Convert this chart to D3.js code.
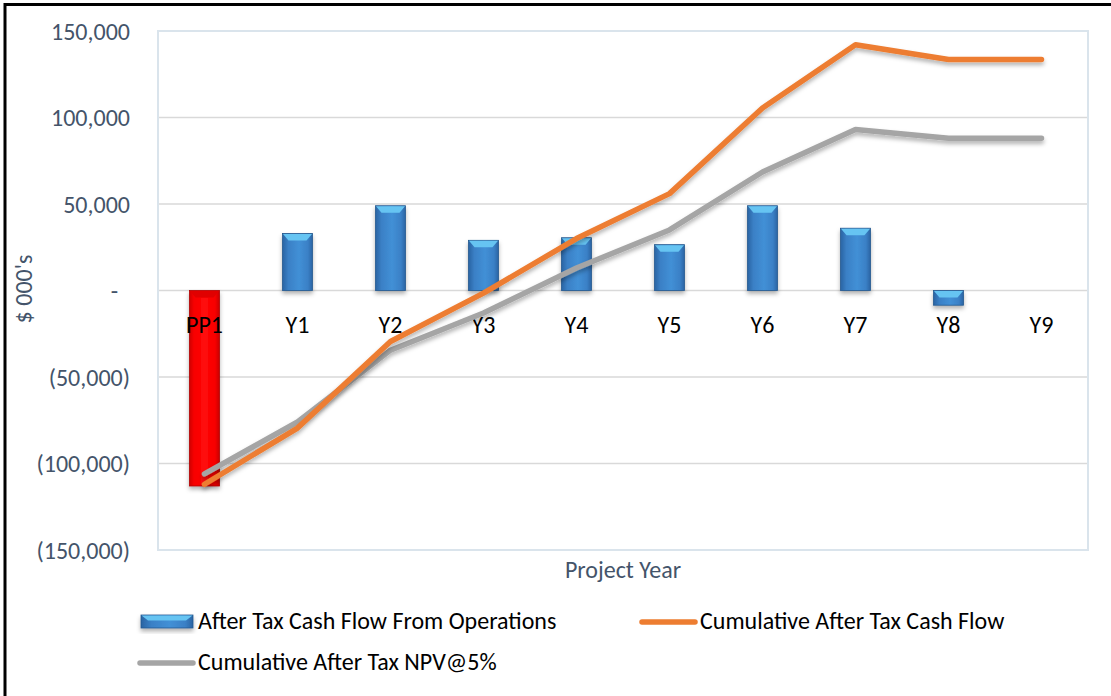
<!DOCTYPE html>
<html>
<head>
<meta charset="utf-8">
<script src="https://cdn.jsdelivr.net/npm/d3@7"></script>
<style>
  html, body { margin: 0; padding: 0; background: #fff; }
  svg { display: block; }
  text { font-family: Carlito, Lato, "Open Sans", sans-serif; }
</style>
</head>
<body>
<svg id="chart" width="1111" height="696"></svg>
<script>
// Project years and series values ($ 000's)
const years = ["PP1", "Y1", "Y2", "Y3", "Y4", "Y5", "Y6", "Y7", "Y8", "Y9"];
const cashFlowOps = [-113000, 33000, 49000, 29000, 30500, 26500, 49000, 36000, -8500, 0];
const cumCashFlow = [-112000, -79500, -29500, -1500, 30000, 56000, 105500, 142000, 133500, 133500];
const cumNPV = [-106000, -76000, -34500, -13000, 13000, 35000, 68500, 93000, 88000, 88000];
const yTicks = [150000, 100000, 50000, 0, -50000, -100000, -150000];

const svg = d3.select("#chart");
const W = 1111, H = 696;
const plot = { left: 158, right: 1088, top: 31, bottom: 550 };
const FS = "24px";

// Outer frame (left and top edges visible)
svg.append("rect").attr("x", 5).attr("y", 4.5).attr("width", W + 10).attr("height", H + 10)
  .attr("fill", "#fff").attr("stroke", "#000").attr("stroke-width", 3);

const defs = svg.append("defs");
const shadow = defs.append("filter").attr("id", "shadow")
  .attr("x", "-20%").attr("y", "-20%").attr("width", "140%").attr("height", "160%");
shadow.append("feDropShadow").attr("dx", 0).attr("dy", 3).attr("stdDeviation", 2)
  .attr("flood-color", "#000").attr("flood-opacity", 0.3);

const blueGrad = defs.append("linearGradient").attr("id", "blueBody").attr("x1", 0).attr("x2", 1);
[["0%", "#2a64a3"], ["20%", "#3a80c6"], ["55%", "#4290d6"], ["85%", "#3a80c6"], ["100%", "#2a64a3"]]
  .forEach(([o, c]) => blueGrad.append("stop").attr("offset", o).attr("stop-color", c));
const redGrad = defs.append("linearGradient").attr("id", "redBody").attr("x1", 0).attr("x2", 1);
[["0%", "#d00000"], ["15%", "#f80000"], ["50%", "#ff0a0a"], ["85%", "#f80000"], ["100%", "#c80000"]]
  .forEach(([o, c]) => redGrad.append("stop").attr("offset", o).attr("stop-color", c));

const x = d3.scaleBand().domain(years).range([plot.left, plot.right]).padding(0);
const y = d3.scaleLinear().domain([-150000, 150000]).range([plot.bottom, plot.top]);

// Gridlines
svg.append("g").selectAll("line").data(yTicks).join("line")
  .attr("x1", plot.left).attr("x2", plot.right)
  .attr("y1", d => y(d)).attr("y2", d => y(d))
  .attr("stroke", "#d9d9d9").attr("stroke-width", 1.5);

// Plot area border
svg.append("rect").attr("x", plot.left).attr("y", plot.top)
  .attr("width", plot.right - plot.left).attr("height", plot.bottom - plot.top)
  .attr("fill", "none").attr("stroke", "#dae4ec").attr("stroke-width", 2);

// Y axis labels
const fmt = d => d === 0 ? "-" : d < 0 ? "(" + d3.format(",")(-d) + ")" : d3.format(",")(d);
const yAxis = d3.axisLeft(y).tickValues(yTicks).tickFormat(fmt).tickSize(0).tickPadding(0);
const yg = svg.append("g").attr("transform", `translate(${plot.left - 28},0)`).call(yAxis);
yg.select(".domain").remove();
yg.selectAll("text").attr("fill", "#44546a").style("font-size", FS)
  .style("font-family", "Carlito, Lato, 'Open Sans', sans-serif").attr("dy", "0.35em");
yg.selectAll(".tick").filter(d => d === 0).select("text").attr("dx", "-12px");

// Bars
const barW = 30;
const bars = svg.append("g").attr("filter", "url(#shadow)");
years.forEach((yr, i) => {
  const v = cashFlowOps[i];
  if (v === 0) return;
  const x0 = x(yr) + x.bandwidth() / 2 - barW / 2;
  const top = Math.min(y(v), y(0));
  const h = Math.abs(y(v) - y(0));
  const isRed = i === 0;
  const g = bars.append("g");
  g.append("rect").attr("x", x0).attr("y", top).attr("width", barW).attr("height", h)
    .attr("fill", isRed ? "url(#redBody)" : "url(#blueBody)")
    .attr("stroke", isRed ? "#b00000" : "#24598f").attr("stroke-width", 0.8);
  const bev = Math.min(7, h / 2);
  g.append("path")
    .attr("d", `M${x0 + 0.5},${top + 0.5} L${x0 + barW - 0.5},${top + 0.5} L${x0 + barW - 6},${top + bev} L${x0 + 6},${top + bev} Z`)
    .attr("fill", isRed ? "#e00000" : "#66c4f2");
});

// Category labels
svg.append("g").selectAll("text").data(years).join("text")
  .attr("x", d => x(d) + x.bandwidth() / 2).attr("y", 333)
  .attr("text-anchor", "middle").attr("fill", "#000").style("font-size", FS)
  .text(d => d);

// Lines
const line = d3.line().x((d, i) => x(years[i]) + x.bandwidth() / 2).y(d => y(d));
svg.append("path").datum(cumNPV).attr("d", line).attr("fill", "none")
  .attr("stroke", "#a5a5a5").attr("stroke-width", 5.5)
  .attr("stroke-linecap", "round").attr("stroke-linejoin", "round").attr("filter", "url(#shadow)");
svg.append("path").datum(cumCashFlow).attr("d", line).attr("fill", "none")
  .attr("stroke", "#ed7d31").attr("stroke-width", 5.5)
  .attr("stroke-linecap", "round").attr("stroke-linejoin", "round").attr("filter", "url(#shadow)");

// Axis titles
svg.append("text").attr("transform", "translate(32,289) rotate(-90)")
  .attr("text-anchor", "middle").attr("fill", "#44546a").style("font-size", FS).text("$ 000's");
svg.append("text").attr("x", (plot.left + plot.right) / 2).attr("y", 578)
  .attr("text-anchor", "middle").attr("fill", "#44546a").style("font-size", FS).text("Project Year");

// Legend
const leg = svg.append("g");
const lb = leg.append("g").attr("filter", "url(#shadow)");
lb.append("rect").attr("x", 141).attr("y", 615).attr("width", 52).attr("height", 13)
  .attr("fill", "url(#blueBody)").attr("stroke", "#24598f").attr("stroke-width", 0.8);
lb.append("path").attr("d", "M141.5,615.5 L192.5,615.5 L186,620.5 L148,620.5 Z").attr("fill", "#66c4f2");
leg.append("text").attr("x", 198).attr("y", 629).style("font-size", FS).attr("fill", "#000")
  .text("After Tax Cash Flow From Operations");
leg.append("line").attr("x1", 642).attr("x2", 695).attr("y1", 622).attr("y2", 622)
  .attr("stroke", "#ed7d31").attr("stroke-width", 5.5).attr("stroke-linecap", "round");
leg.append("text").attr("x", 700).attr("y", 629).style("font-size", FS).attr("fill", "#000")
  .text("Cumulative After Tax Cash Flow");
leg.append("line").attr("x1", 140).attr("x2", 193).attr("y1", 663).attr("y2", 663)
  .attr("stroke", "#a5a5a5").attr("stroke-width", 5.5).attr("stroke-linecap", "round");
leg.append("text").attr("x", 198).attr("y", 670).style("font-size", FS).attr("fill", "#000")
  .text("Cumulative After Tax NPV@5%");
</script>
</body>
</html>
